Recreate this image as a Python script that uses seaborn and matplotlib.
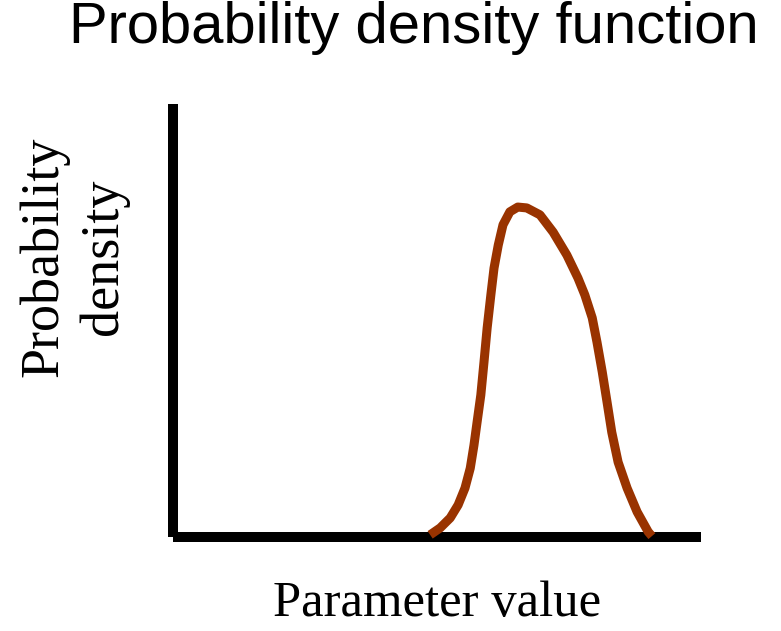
import matplotlib
matplotlib.use("Agg")
import matplotlib.pyplot as plt
import seaborn as sns
import pandas as pd

# Data (parameter value vs probability density, arbitrary units 0-100)
param_value = [48.7, 50.6, 52.5, 54.0, 55.3, 56.3, 57.0, 57.6, 58.3, 58.9, 59.5, 60.2,
               60.8, 61.6, 62.5, 63.8, 65.3, 67.0, 69.5, 72.0, 74.6, 76.7, 78.0, 79.4,
               80.3, 81.3, 82.2, 83.1, 84.3, 86.0, 87.9, 90.0, 90.7]
density = [0.5, 2.1, 4.4, 7.4, 11.3, 15.9, 21.2, 26.6, 32.8, 40.4, 48.3, 55.9,
           62.1, 67.4, 72.1, 75.1, 76.2, 76.0, 74.4, 70.4, 65.1, 59.8, 55.9, 50.6,
           45.0, 38.1, 31.2, 24.2, 17.3, 11.3, 5.8, 1.2, 0.2]
title = "Probability density function"
x_label = "Parameter value"
y_label = "Probability\ndensity"

df = pd.DataFrame({"param": param_value, "density": density})

sns.set_theme(style="white")
plt.rcParams["font.family"] = ["Liberation Sans", "DejaVu Sans"]

W, H = 781, 631
fig = plt.figure(figsize=(W / 100, H / 100), dpi=100)
ax = fig.add_axes([173 / W, (H - 537) / H, 528 / W, 433 / H])

sns.lineplot(data=df, x="param", y="density", sort=False, ax=ax,
             color="#993300", linewidth=6.5, solid_capstyle="butt",
             solid_joinstyle="round", clip_on=False, zorder=3)

ax.set_xlim(0, 100)
ax.set_ylim(0, 100)
ax.set_xticks([])
ax.set_yticks([])
for s in ["top", "right"]:
    ax.spines[s].set_visible(False)
for s in ["left", "bottom"]:
    ax.spines[s].set_visible(True)
    ax.spines[s].set_color("black")
    ax.spines[s].set_linewidth(7.2)
    ax.spines[s].set_capstyle("butt")

serif = ["Liberation Serif", "DejaVu Serif"]
ax.set_xlabel("")
ax.set_ylabel("")
fig.text(437.5 / W, 1 - 616 / H, x_label, ha="center", va="baseline",
         fontsize=36.5, family=serif, color="black")
fig.text(74 / W, 1 - 257 / H, y_label, ha="center", va="center", rotation=90,
         fontsize=39, family=serif, color="black", linespacing=1.25,
         multialignment="center")
fig.text(414 / W, 1 - 43 / H, title, ha="center", va="baseline",
         fontsize=41.8, color="black")

fig.savefig("out.png", dpi=100)
